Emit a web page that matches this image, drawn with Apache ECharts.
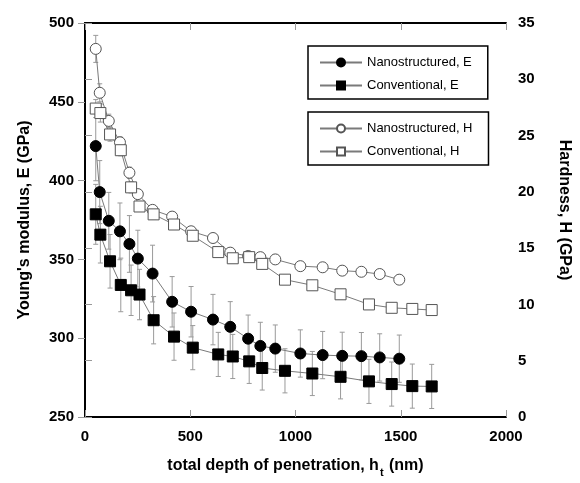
<!DOCTYPE html>
<html>
<head>
<meta charset="utf-8">
<script src="https://cdn.jsdelivr.net/npm/echarts@6/dist/echarts.min.js"></script>
<style>
  html, body { margin: 0; padding: 0; background: #fff; }
  #chart { width: 580px; height: 483px; }
</style>
</head>
<body>
<div id="chart"></div>
<script>
// Indentation depth (nm) for each sample
const depthNano = [51, 70, 113, 166, 211, 251, 321, 414, 504, 608, 690, 775, 833, 904, 1023, 1129, 1222, 1313, 1400, 1493];
const depthConv = [51, 73, 119, 170, 219, 259, 326, 423, 512, 633, 702, 780, 842, 950, 1080, 1214, 1349, 1457, 1555, 1647];

// Young's modulus E (GPa) with standard deviation
const modulusNano = [421.9, 392.7, 374.5, 367.8, 359.8, 350.5, 341.0, 323.1, 316.8, 311.8, 307.2, 299.7, 295.1, 293.4, 290.3, 289.3, 288.8, 288.6, 287.8, 287.0];
const modulusNanoErr = [22, 20, 18, 18, 18, 18, 18, 16, 16, 16, 16, 15, 15, 15, 15, 15, 15, 15, 15, 15];
const modulusConv = [378.6, 365.7, 348.8, 333.8, 330.4, 327.7, 311.4, 301.0, 294.0, 289.7, 288.4, 285.3, 281.1, 279.3, 277.6, 275.5, 272.6, 270.9, 269.6, 269.4];
const modulusConvErr = [19, 18, 17, 17, 16, 16, 15, 15, 14, 14, 14, 14, 14, 14, 14, 14, 14, 14, 14, 14];

// Hardness H (GPa) with standard deviation
const hardnessNano = [32.7, 28.8, 26.3, 24.4, 21.7, 19.8, 18.4, 17.8, 16.5, 15.9, 14.6, 14.3, 14.2, 14.0, 13.4, 13.3, 13.0, 12.9, 12.7, 12.2];
const hardnessNanoErr = [1.2, 0.8, 0.6, 0.5, 0.5, 0.4, 0.4, 0.4, 0.4, 0.4, 0.4, 0.4, 0.4, 0.4, 0.4, 0.4, 0.4, 0.4, 0.4, 0.4];
const hardnessConv = [27.4, 27.0, 25.1, 23.7, 20.4, 18.7, 18.0, 17.1, 16.1, 14.65, 14.1, 14.2, 13.6, 12.2, 11.7, 10.9, 10.0, 9.7, 9.6, 9.5];
const hardnessConvErr = [0.8, 0.8, 0.6, 0.5, 0.5, 0.4, 0.4, 0.4, 0.4, 0.4, 0.4, 0.4, 0.4, 0.4, 0.4, 0.4, 0.4, 0.4, 0.4, 0.4];

const seriesNames = ['Nanostructured, E', 'Conventional, E', 'Nanostructured, H', 'Conventional, H'];

const FONT = "'Liberation Sans', Arial, sans-serif";
const LINE_COLOR = '#7a7a7a';
const BAR_COLOR = '#9a9a9a';

function pairs(xs, ys) {
  return xs.map((x, i) => [x, ys[i]]);
}
function triples(xs, ys, es) {
  return xs.map((x, i) => [x, ys[i], es[i]]);
}

// Vertical error bar with small caps, positioned through the axes
function renderErrorBar(params, api) {
  const x = api.value(0);
  const y = api.value(1);
  const e = api.value(2);
  const top = api.coord([x, y + e]);
  const bottom = api.coord([x, y - e]);
  const cap = 2.5;
  const style = { stroke: BAR_COLOR, lineWidth: 1 };
  return {
    type: 'group',
    children: [
      { type: 'line', shape: { x1: top[0], y1: top[1], x2: bottom[0], y2: bottom[1] }, style },
      { type: 'line', shape: { x1: top[0] - cap, y1: top[1], x2: top[0] + cap, y2: top[1] }, style },
      { type: 'line', shape: { x1: bottom[0] - cap, y1: bottom[1], x2: bottom[0] + cap, y2: bottom[1] }, style }
    ]
  };
}

function errorSeries(data, yAxisIndex) {
  return {
    type: 'custom',
    renderItem: renderErrorBar,
    data: data,
    yAxisIndex: yAxisIndex,
    encode: { x: 0, y: 1 },
    z: 1,
    silent: true
  };
}

function lineSeries(name, data, yAxisIndex, symbol, filled) {
  return {
    name: name,
    type: 'line',
    data: data,
    yAxisIndex: yAxisIndex,
    symbol: symbol,
    symbolSize: 11,
    showAllSymbol: true,
    lineStyle: { color: LINE_COLOR, width: 1 },
    itemStyle: filled
      ? { color: '#000', borderColor: '#000', borderWidth: 1 }
      : { color: '#fff', borderColor: '#555', borderWidth: 1 },
    emphasis: { disabled: true },
    z: 3
  };
}

const chart = echarts.init(document.getElementById('chart'), null, { renderer: 'canvas' });

const axisLineStyle = { color: '#000', width: 2 };
const tickLabel = { color: '#000', fontFamily: FONT, fontSize: 15, fontWeight: 'bold', formatter: (v) => String(v) };
const titleStyle = { color: '#000', fontFamily: FONT, fontSize: 16, fontWeight: 'bold' };

const legendCommon = {
  orient: 'vertical',
  left: 308,
  itemWidth: 42,
  itemHeight: 10,
  itemGap: 10,
  borderColor: '#000',
  borderWidth: 1.5,
  backgroundColor: '#fff',
  padding: [10, 16, 7, 11],
  textStyle: { color: '#000', fontFamily: FONT, fontSize: 13 },
  selectedMode: false
};

chart.setOption({
  animation: false,
  backgroundColor: '#fff',
  grid: { left: 85, right: 65, top: 23, bottom: 61 },
  legend: [
    Object.assign({ top: 46, data: [seriesNames[0], seriesNames[1]] }, legendCommon),
    Object.assign({ top: 112, data: [seriesNames[2], seriesNames[3]] }, legendCommon)
  ],
  xAxis: [
    {
      type: 'value',
      min: 0, max: 2000, interval: 500,
      position: 'bottom',
      name: 'total depth of penetration, h{sub|t} (nm)',
      nameLocation: 'middle',
      nameGap: 36,
      nameTextStyle: Object.assign({}, titleStyle, {
        rich: { sub: { fontFamily: FONT, fontSize: 11, fontWeight: 'bold', color: '#000', padding: [14, 1, 0, 1] } }
      }),
      axisLine: { lineStyle: axisLineStyle },
      axisTick: { inside: true, length: 7, lineStyle: { color: '#999', width: 1 } },
      axisLabel: Object.assign({ margin: 12 }, tickLabel),
      splitLine: { show: false }
    },
    {
      type: 'value',
      min: 0, max: 2000, interval: 500,
      position: 'top',
      axisLine: { lineStyle: axisLineStyle },
      axisTick: { inside: true, length: 7, lineStyle: { color: '#999', width: 1 } },
      axisLabel: { show: false },
      splitLine: { show: false }
    }
  ],
  yAxis: [
    {
      type: 'value',
      min: 250, max: 500, interval: 50,
      position: 'left',
      name: "Young's modulus, E (GPa)",
      nameLocation: 'middle',
      nameGap: 52,
      nameTextStyle: titleStyle,
      axisLine: { show: true, lineStyle: axisLineStyle },
      axisTick: { show: true, length: 7, lineStyle: { color: '#999', width: 1 } },
      axisLabel: Object.assign({ margin: 11 }, tickLabel),
      splitLine: { show: false }
    },
    {
      type: 'value',
      min: 0, max: 35, interval: 5,
      position: 'right',
      name: 'Hardness, H (GPa)',
      nameLocation: 'middle',
      nameGap: 50,
      nameRotate: -90,
      nameTextStyle: Object.assign({}, titleStyle, { padding: [0, 20, 0, 0] }),
      axisLine: { show: true, lineStyle: axisLineStyle },
      axisTick: { show: true, length: 7, lineStyle: { color: '#999', width: 1 } },
      axisLabel: Object.assign({ margin: 12 }, tickLabel),
      splitLine: { show: false }
    }
  ],
  series: [
    errorSeries(triples(depthNano, modulusNano, modulusNanoErr), 0),
    errorSeries(triples(depthConv, modulusConv, modulusConvErr), 0),
    errorSeries(triples(depthNano, hardnessNano, hardnessNanoErr), 1),
    errorSeries(triples(depthConv, hardnessConv, hardnessConvErr), 1),
    lineSeries(seriesNames[0], pairs(depthNano, modulusNano), 0, 'circle', true),
    lineSeries(seriesNames[1], pairs(depthConv, modulusConv), 0, 'rect', true),
    lineSeries(seriesNames[2], pairs(depthNano, hardnessNano), 1, 'circle', false),
    lineSeries(seriesNames[3], pairs(depthConv, hardnessConv), 1, 'rect', false)
  ]
});
</script>
</body>
</html>
